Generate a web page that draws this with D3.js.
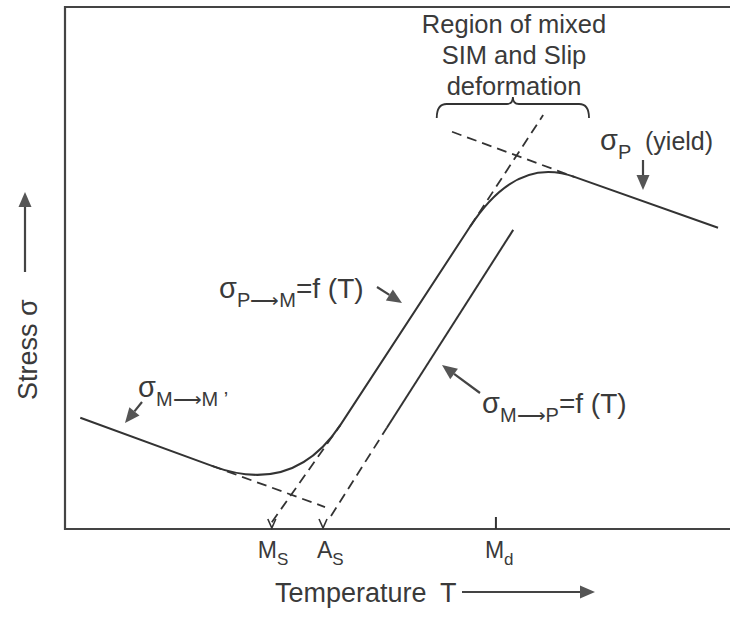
<!DOCTYPE html>
<html>
<head>
<meta charset="utf-8">
<script src="https://cdn.jsdelivr.net/npm/d3@7"></script>
<style>
  body { margin: 0; background: #fff; }
  text { font-family: "Liberation Sans", Arial, sans-serif; fill: #3a3a3a; }
</style>
</head>
<body>
<svg id="chart" width="730" height="622"></svg>
<script>
// characteristic temperatures on the T axis
var tickT = [31.1, 38.8, 64.8];
var tickMain = ['M', 'A', 'M'];
var tickSub = ['S', 'S', 'd'];

// solid σ-T curve: start, lower bend (tangent, corner, tangent), upper bend (tangent, corner, tangent), end
var curveT = [2.3, 22.1, 34.3, 41.4, 60.9, 67.9, 76.7, 98.2];
var curveS = [21.3, 12.1, 6.3, 19.9, 57.9, 71.6, 67.4, 57.7];

// reverse transformation line M->P (solid part)
var mpT = [48.4, 67.4];
var mpS = [19.4, 57.3];

// dashed extrapolations: M->M', Ms line, upper P->M, yield line, lower M->P
var dashT = [[22.1, 39.1], [31.1, 41.4], [60.9, 71.9], [58.2, 76.7], [40.0, 48.4]];
var dashS = [[12.1, 4.2], [1.3, 19.9], [57.9, 79.3], [76.1, 67.4], [2.5, 19.4]];

// T range of the mixed SIM / slip region
var mixedT = [55.9, 78.8];
var mixedText = ['Region of mixed', 'SIM and Slip', 'deformation'];

var svg = d3.select('#chart');
var x = d3.scaleLinear().domain([0, 100]).range([65, 730]);
var y = d3.scaleLinear().domain([0, 100]).range([529, 7]);
var ink = '#333';

//枠
svg.append('path')
  .attr('d', 'M' + x(100) + ',' + y(100) + 'H' + x(0) + 'V' + y(0) + 'H' + x(100))
  .attr('fill', 'none').attr('stroke', '#444').attr('stroke-width', 2.2);

//破線
var line = d3.line().x(function(d) { return x(d[0]); }).y(function(d) { return y(d[1]); });
dashT.forEach(function(t, i) {
  svg.append('path')
    .attr('d', line([[t[0], dashS[i][0]], [t[1], dashS[i][1]]]))
    .attr('fill', 'none').attr('stroke', ink).attr('stroke-width', 1.8)
    .attr('stroke-dasharray', '10,6');
});

//実線の曲線
var p = d3.path();
p.moveTo(x(curveT[0]), y(curveS[0]));
p.lineTo(x(curveT[1]), y(curveS[1]));
p.quadraticCurveTo(x(curveT[2]), y(curveS[2]), x(curveT[3]), y(curveS[3]));
p.lineTo(x(curveT[4]), y(curveS[4]));
p.quadraticCurveTo(x(curveT[5]), y(curveS[5]), x(curveT[6]), y(curveS[6]));
p.lineTo(x(curveT[7]), y(curveS[7]));
svg.append('path').attr('d', p.toString())
  .attr('fill', 'none').attr('stroke', ink).attr('stroke-width', 2);

svg.append('path')
  .attr('d', line([[mpT[0], mpS[0]], [mpT[1], mpS[1]]]))
  .attr('fill', 'none').attr('stroke', ink).attr('stroke-width', 2);

//温度の目盛り
var labelShift = [-14, -6, -11];
tickT.forEach(function(t, i) {
  var cx = x(t);
  if (i < 2) {
    svg.append('path')
      .attr('d', 'M' + (cx - 4) + ',' + (y(0) - 10) + 'L' + cx + ',' + (y(0) - 1) + 'L' + (cx + 4) + ',' + (y(0) - 10))
      .attr('fill', 'none').attr('stroke', ink).attr('stroke-width', 1.6);
  } else {
    svg.append('line')
      .attr('x1', cx).attr('x2', cx).attr('y1', y(0) - 12).attr('y2', y(0))
      .attr('stroke', ink).attr('stroke-width', 2);
  }
  var lab = svg.append('text')
    .attr('x', cx + labelShift[i]).attr('y', 558)
    .style('font-size', '23px')
    .text(tickMain[i]);
  lab.append('tspan').attr('dy', 7).style('font-size', '17px').text(tickSub[i]);
});

//矢印
function arrow(x1, y1, x2, y2) {
  var a = Math.atan2(y2 - y1, x2 - x1);
  var len = 15, w = 6.5;
  var bx = x2 - len * Math.cos(a), by = y2 - len * Math.sin(a);
  svg.append('line')
    .attr('x1', x1).attr('y1', y1).attr('x2', bx).attr('y2', by)
    .attr('stroke', '#444').attr('stroke-width', 2.2);
  svg.append('path')
    .attr('d', 'M' + x2 + ',' + y2 +
      'L' + (bx + w * Math.sin(a)) + ',' + (by - w * Math.cos(a)) +
      'L' + (bx - w * Math.sin(a)) + ',' + (by + w * Math.cos(a)) + 'Z')
    .attr('fill', '#555');
}

arrow(142, 402, 125, 423);
arrow(377, 287, 402, 303);
arrow(480, 393, 442, 365);
arrow(643, 160, 643, 190);
arrow(25, 272, 25, 192);
arrow(462, 592, 595, 592);

//軸ラベル
svg.append('text')
  .attr('transform', 'translate(37,400) rotate(-90)')
  .style('font-size', '27px')
  .text('Stress σ');
svg.append('text').attr('x', 275).attr('y', 602).style('font-size', '27px').text('Temperature');
svg.append('text').attr('x', 440).attr('y', 602).style('font-size', '27px').text('T');

//注釈
function sigma(xp, yp, sub, rest) {
  var t = svg.append('text').attr('x', xp).attr('y', yp).style('font-size', '29px').text('σ');
  t.append('tspan').attr('dy', 9).style('font-size', '20px').text(sub);
  if (rest) t.append('tspan').attr('dy', -9).style('font-size', '28px').text(rest);
  return t;
}
sigma(138, 397, 'M\u27F6M \u2019');
sigma(219, 298, 'P\u27F6M', '=f (T)');
sigma(482, 413, 'M\u27F6P', '=f (T)');
sigma(600, 150, 'P');
svg.append('text').attr('x', 645).attr('y', 150).style('font-size', '25px').text('(yield)');

//混合領域の括弧
var x0 = x(mixedT[0]), x1 = x(mixedT[1]), xm = (x0 + x1) / 2;
var b = d3.path();
b.moveTo(x0, 118);
b.quadraticCurveTo(x0, 104, x0 + 10, 104);
b.lineTo(xm - 6, 104);
b.quadraticCurveTo(xm, 104, xm, 97);
b.quadraticCurveTo(xm, 104, xm + 6, 104);
b.lineTo(x1 - 10, 104);
b.quadraticCurveTo(x1, 104, x1, 118);
svg.append('path').attr('d', b.toString())
  .attr('fill', 'none').attr('stroke', ink).attr('stroke-width', 1.8);

svg.selectAll('.mixed')
  .data(mixedText)
  .enter()
  .append('text')
  .attr('class', 'mixed')
  .attr('x', 514)
  .attr('y', function(d, i) { return 33 + i * 31; })
  .attr('text-anchor', 'middle')
  .style('font-size', '25.5px')
  .text(function(d) { return d; });
</script>
</body>
</html>
